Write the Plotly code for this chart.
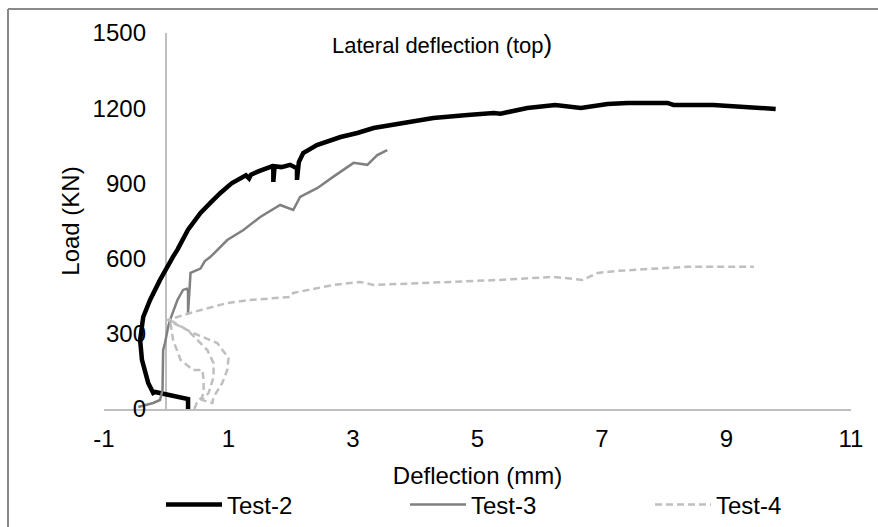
import plotly.graph_objects as go

# ---- data ----
test2_x = [0.35, 0.35, -0.18, -0.21, -0.29, -0.39, -0.42, -0.37, -0.26, -0.10, 0.11, 0.18, 0.35, 0.55, 0.72,
           0.87, 1.05, 1.19, 1.28, 1.33, 1.36, 1.50, 1.62, 1.70, 1.72, 1.72, 1.74, 1.85, 1.99, 2.08, 2.10,
           2.10, 2.13, 2.20, 2.42, 2.80, 3.07, 3.33, 3.65, 3.81, 4.29, 4.84, 5.26, 5.37, 5.80, 6.25, 6.66,
           7.09, 7.41, 8.05, 8.15, 8.79, 9.79]
test2_y = [0, 40, 68, 64, 104, 196, 275, 367, 435, 515, 608, 636, 715, 782, 825,
           862, 900, 922, 932, 920, 935, 950, 962, 968, 960, 906, 968, 965, 974, 965, 960,
           914, 985, 1021, 1053, 1085, 1101, 1121, 1133, 1141, 1161, 1173, 1181, 1178, 1201, 1213, 1201,
           1217, 1221, 1221, 1213, 1213, 1197]

test3_x = [-0.45, -0.21, -0.10, -0.06, -0.05, -0.02, 0.03, 0.06, 0.18, 0.27, 0.33, 0.35, 0.35, 0.37, 0.39,
           0.55, 0.62, 0.71, 0.85, 0.98, 1.24, 1.51, 1.83, 1.96, 2.04, 2.15, 2.43, 2.68, 3.01, 3.23, 3.39, 3.55]
test3_y = [8, 24, 36, 76, 235, 263, 327, 355, 435, 475, 480, 470, 383, 480, 543,
           560, 590, 607, 640, 674, 714, 766, 814, 802, 794, 846, 882, 926, 982, 974, 1013, 1033]

test4_x = [0.45, 0.50, 0.58, 0.60, 0.60, 0.58, 0.43, 0.23, 0.11, 0.06, 0.34, 0.66, 0.76, 0.76, 0.68, 0.58,
           0.74, 0.76, 0.90, 0.98, 1.00, 0.82, 0.43, 0.02, 0.44, 0.98, 1.35, 1.99, 2.04, 2.69, 3.12, 3.33,
           3.76, 5.37, 6.22, 6.69, 6.93, 7.25, 7.78, 8.37, 9.44]
test4_y = [0, 30, 48, 80, 116, 156, 156, 196, 275, 355, 315, 235, 183, 128, 64, 36,
           24, 48, 104, 156, 203, 263, 303, 355, 387, 423, 435, 447, 463, 495, 507, 495,
           499, 515, 527, 515, 543, 551, 559, 567, 567]

x_ticks = [-1, 1, 3, 5, 7, 9, 11]
y_ticks = [0, 300, 600, 900, 1200, 1500]

FONT = "Liberation Sans, Arial, sans-serif"

fig = go.Figure()
fig.add_trace(go.Scatter(x=test2_x, y=test2_y, mode="lines", name="Test-2", legend="legend",
                         line=dict(color="#000000", width=4.5)))
fig.add_trace(go.Scatter(x=test3_x, y=test3_y, mode="lines", name="Test-3", legend="legend2",
                         line=dict(color="#808080", width=2.5)))
fig.add_trace(go.Scatter(x=test4_x, y=test4_y, mode="lines", name="Test-4", legend="legend3",
                         line=dict(color="#BFBFBF", width=2.5, dash="7px,4px")))

W, H = 878, 527
L, R, T, B = 104, 27, 33, 118
pw, ph = W - L - R, H - T - B

def px_x(p):
    return (p - L) / pw

def px_y(p):
    return (H - B - p) / ph

def leg(xpx):
    return dict(orientation="h", x=px_x(xpx), xanchor="left", y=px_y(505), yanchor="middle",
                itemwidth=56, font=dict(family=FONT, size=24, color="#000000"),
                bgcolor="rgba(0,0,0,0)")

fig.update_layout(
    width=W, height=H,
    margin=dict(l=L, r=R, t=T, b=B, autoexpand=False),
    paper_bgcolor="white", plot_bgcolor="white",
    font=dict(family=FONT, size=24, color="#000000"),
    title=dict(text="Lateral deflection (top<span style='font-size:26px'>)</span>",
               x=332 / W, xanchor="left", xref="container",
               y=1 - 45 / H, yanchor="middle", yref="container",
               font=dict(family=FONT, size=22, color="#000000")),
    showlegend=True,
    legend=leg(161), legend2=leg(405), legend3=leg(650),
    xaxis=dict(range=[-1, 11], tickvals=x_ticks, ticktext=[str(v) for v in x_ticks],
               automargin=False,
               showgrid=False, zeroline=True, zerolinecolor="#BFBFBF", zerolinewidth=1.5,
               showline=True, linecolor="#BFBFBF", linewidth=1.5, ticks="",
               ticklabelstandoff=7,
               title=dict(text="Deflection (mm)", standoff=17, font=dict(size=24))),
    yaxis=dict(range=[0, 1500], tickvals=y_ticks, ticktext=[str(v) for v in y_ticks],
               anchor="free", position=px_x(166), automargin=False,
               showgrid=False, zeroline=False, showline=False, ticks="",
               ticklabelstandoff=20,
               title=dict(text="Load (KN)", standoff=5, font=dict(size=24))),
    shapes=[
        dict(type="line", xref="paper", yref="paper",
             x0=px_x(8), x1=px_x(8), y0=px_y(540), y1=px_y(9),
             line=dict(color="#898989", width=2)),
        dict(type="line", xref="paper", yref="paper",
             x0=px_x(8), x1=px_x(890), y0=px_y(9), y1=px_y(9),
             line=dict(color="#898989", width=2)),
    ],
)

fig.write_html("out.html")
